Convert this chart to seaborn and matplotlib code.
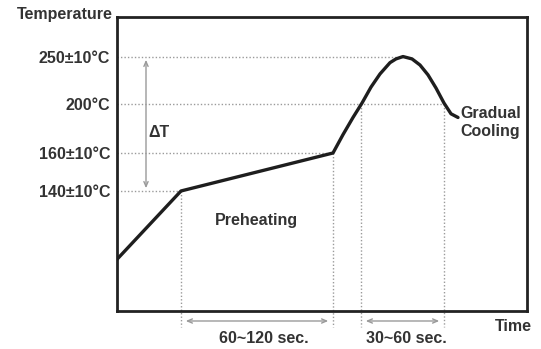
import numpy as np
import matplotlib.pyplot as plt
import seaborn as sns

# reflow profile (time in arbitrary units, temperature in C)
time_s = [0, 64, 216, 226, 236, 245, 254, 263, 273, 279, 286, 295, 303, 311, 319, 327, 334, 341]
temp_c = [104, 140, 160, 175, 189, 201, 218, 232, 244, 248, 250.5, 248, 241.5, 231, 217, 201, 192, 189]

tick_temps = [250, 200, 160, 140]
tick_labels = ["250\u00b110\u00b0C", "200\u00b0C", "160\u00b110\u00b0C", "140\u00b110\u00b0C"]

# phase boundaries: where the dotted guides drop from the curve
phase_times = [64, 216, 244, 327]
phase_temps = [140, 160, 200, 200]
guide_ends = [286, 327, 216, 64]  # horizontal guide for each tick temp ends at the curve

span_labels = ["60~120 sec.", "30~60 sec."]

# the y axis in the drawing is schematic, not linear -> piecewise scale
TEMP_KNOTS = [0, 140, 160, 200, 250, 400]
HEIGHT_KNOTS = [-146, 120, 158, 207, 254, 395]


def forward(v):
    return np.interp(v, TEMP_KNOTS, HEIGHT_KNOTS)


def inverse(h):
    return np.interp(h, HEIGHT_KNOTS, TEMP_KNOTS)


sns.set_style("white")
plt.rcParams["font.family"] = ["Liberation Sans", "DejaVu Sans"]
TXT = "#333333"
GUIDE = "#9a9a9a"
FS = 11.5

fig = plt.figure(figsize=(5.41, 3.49), dpi=100)
ax = fig.add_axes([117 / 541, 38 / 349, 410 / 541, 294 / 349])
ax.set_yscale("function", functions=(forward, inverse))

sns.lineplot(x=time_s, y=temp_c, ax=ax, color="#1e1e1e", linewidth=2.4, zorder=5)
ax.lines[-1].set_solid_joinstyle("round")

ax.set_xlim(0, 410)
ax.set_ylim(76.8, 292.6)

# horizontal guides
for t, end in zip(tick_temps, guide_ends):
    ax.plot([0, end], [t, t], color=GUIDE, lw=1, ls=(0, (1, 1.5)), zorder=1)

# vertical guides reaching below the axis
below = 68.4
for x, t in zip(phase_times, phase_temps):
    ax.plot([x, x], [t, below], color=GUIDE, lw=1, ls=(0, (1, 1.5)), clip_on=False, zorder=1)

# duration arrows under the axis
xt = ax.get_xaxis_transform()
spans = [(phase_times[0], phase_times[1]), (phase_times[2], phase_times[3])]
label_x = [147, 289]
for (a, b), lab, lx in zip(spans, span_labels, label_x):
    ax.annotate("", xy=(a + 2, -0.034), xytext=(b - 2, -0.034), xycoords=xt, textcoords=xt,
                arrowprops=dict(arrowstyle="<->,head_length=0.35,head_width=0.15", color=GUIDE, lw=1),
                annotation_clip=False)
    ax.text(lx, -0.095, lab, transform=xt, ha="center", va="center",
            fontsize=FS, fontweight="bold", color=TXT)

# delta T arrow
ax.annotate("", xy=(29, 250), xytext=(29, 140),
            arrowprops=dict(arrowstyle="<->,head_length=0.35,head_width=0.15", color=GUIDE, lw=1))
ax.text(31, 177, "\u0394T", ha="left", va="center", fontsize=FS, fontweight="bold", color=TXT)

ax.text(139, 124.7, "Preheating", ha="center", va="center", fontsize=FS, fontweight="bold", color=TXT)
ax.text(343, 185, "Gradual\nCooling", ha="left", va="center", fontsize=FS, fontweight="bold",
        color=TXT, linespacing=1.25)

ax.text(-0.01, 1.007, "Temperature", transform=ax.transAxes, ha="right", va="center",
        fontsize=FS, fontweight="bold", color=TXT)
ax.text(0.922, -0.054, "Time", transform=ax.transAxes, ha="left", va="center",
        fontsize=FS, fontweight="bold", color=TXT)

ax.set_yticks(tick_temps)
ax.set_yticklabels(tick_labels, fontsize=FS, fontweight="bold", color=TXT)
ax.set_xticks([])
ax.tick_params(axis="y", length=0, pad=5)
ax.minorticks_off()
ax.set_xlabel("")
ax.set_ylabel("")
for sp in ax.spines.values():
    sp.set_color("#222222")
    sp.set_linewidth(2)

fig.savefig("out.png", dpi=100)
